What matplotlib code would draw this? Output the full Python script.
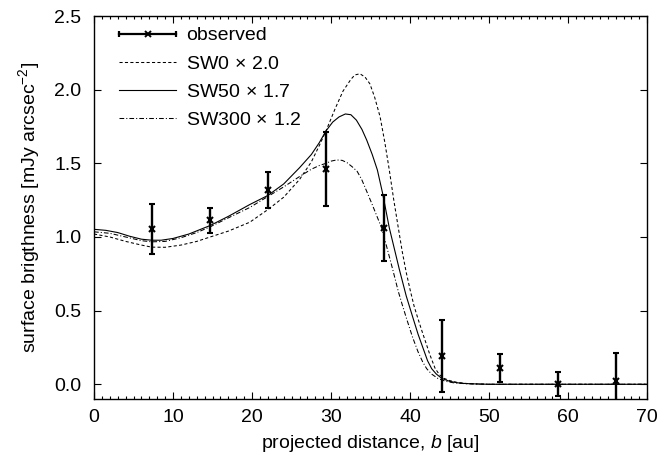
import matplotlib
matplotlib.use("Agg")
import matplotlib.pyplot as plt
from matplotlib.lines import Line2D
from matplotlib.legend_handler import HandlerBase
from matplotlib.container import ErrorbarContainer
from matplotlib.ticker import MultipleLocator, FormatStrFormatter

plt.rcParams['font.family'] = ['Liberation Sans', 'DejaVu Sans']
plt.rcParams['mathtext.fontset'] = 'custom'
plt.rcParams['mathtext.rm'] = 'Liberation Sans'
plt.rcParams['mathtext.it'] = 'Liberation Sans:italic'
plt.rcParams['font.size'] = 14

# observed data
obs_x = [22/3, 44/3, 22.0, 88/3, 110/3, 44.0, 154/3, 176/3, 66.0]
obs_y = [1.057, 1.113, 1.316, 1.462, 1.060, 0.194, 0.110, 0.003, 0.020]
obs_err = [0.170, 0.083, 0.122, 0.253, 0.225, 0.245, 0.095, 0.082, 0.190]

# SW0 x 2.0 (dashed)
sw0_x = [0, 2, 4, 6, 7.3, 9, 11, 13, 14.7, 17, 19.7, 22, 24, 26, 27.5, 28.5,
         29.35, 30.5, 31.5, 32.5, 33.0, 33.65, 34.3, 34.9, 35.5, 36.2, 36.8,
         37.36, 37.9, 38.5, 39.0, 39.5, 40.0, 40.5, 41.0, 41.5, 42.0, 42.5,
         43.14, 43.7, 44.3, 45, 46, 47, 48, 50, 55, 70]
sw0_y = [1.02, 1.00, 0.97, 0.945, 0.931, 0.930, 0.945, 0.97, 1.00, 1.04, 1.10,
         1.186, 1.27, 1.39, 1.51, 1.62, 1.72, 1.87, 1.99, 2.07, 2.10, 2.108,
         2.085, 2.04, 1.95, 1.815, 1.64, 1.455, 1.26, 1.062, 0.90, 0.76, 0.64,
         0.53, 0.443, 0.36, 0.28, 0.20, 0.11, 0.065, 0.04, 0.025, 0.012, 0.006,
         0.003, 0.0, 0.0, 0.0]

# SW50 x 1.7 (solid)
sw50_x = [0, 1.5, 3, 4.5, 6, 7.3, 8.5, 10, 12, 14.7, 17, 19.7, 22, 24, 26,
          27.5, 28.5, 29.35, 30.2, 31, 31.8, 32.5, 33.2, 33.9, 34.5, 35.2,
          35.85, 36.5, 37.36, 38.0, 38.63, 39.5, 40.4, 41.0, 41.6, 42.2, 42.72,
          43.3, 44, 45, 46, 47, 48.5, 50, 70]
sw50_y = [1.052, 1.045, 1.03, 1.005, 0.985, 0.978, 0.978, 0.99, 1.02, 1.078,
          1.14, 1.22, 1.282, 1.36, 1.47, 1.56, 1.64, 1.72, 1.78, 1.815, 1.835,
          1.83, 1.793, 1.73, 1.658, 1.56, 1.455, 1.30, 1.062, 0.92, 0.78, 0.60,
          0.443, 0.34, 0.25, 0.16, 0.106, 0.07, 0.04, 0.02, 0.01, 0.005, 0.002,
          0.0, 0.0]

# SW300 x 1.2 (dash-dot)
sw300_x = [0, 2, 4, 6, 7.3, 9, 11, 13, 14.7, 17, 19.7, 22, 24, 26, 27.5, 28.5,
           29.35, 30.0, 30.7, 31.4, 32.0, 32.7, 33.3, 33.87, 34.5, 35.2, 35.8,
           36.4, 37.1, 37.79, 38.5, 39.0, 39.56, 40.3, 41.0, 41.6, 42.09, 42.7,
           43.5, 44.5, 45.5, 47, 49, 50, 70]
sw300_y = [1.035, 1.025, 1.00, 0.975, 0.967, 0.97, 0.995, 1.03, 1.069, 1.13,
           1.20, 1.275, 1.34, 1.41, 1.46, 1.485, 1.50, 1.515, 1.523, 1.52,
           1.505, 1.475, 1.445, 1.39, 1.31, 1.22, 1.14, 1.06, 0.92, 0.78, 0.63,
           0.54, 0.443, 0.32, 0.22, 0.15, 0.106, 0.07, 0.04, 0.02, 0.01, 0.004,
           0.001, 0.0, 0.0]

labels = ['observed', r'SW0$\,\times\,$2.0', r'SW50$\,\times\,$1.7',
          r'SW300$\,\times\,$1.2']


class HandlerHErr(HandlerBase):
    def create_artists(self, legend, orig_handle, xdescent, ydescent, width,
                       height, fontsize, trans):
        y = height / 2 - ydescent
        x0 = -xdescent
        x1 = -xdescent + width
        line = Line2D([x0, x1], [y, y], color='k', lw=1.6)
        caps = Line2D([x0, x1], [y, y], ls='none', marker='|', ms=5,
                      mew=1.6, color='k')
        mk = Line2D([(x0 + x1) / 2], [y], ls='none', marker='x', ms=4,
                    mew=1.4, color='k')
        for a in (line, caps, mk):
            a.set_transform(trans)
        return [line, caps, mk]


fig = plt.figure(figsize=(6.64, 4.63), dpi=100)
ax = fig.add_axes([0.1416, 0.1382, 0.9748 - 0.1416, 0.9654 - 0.1382])

eb = ax.errorbar(obs_x, obs_y, yerr=obs_err, fmt='x', color='k', ms=5,
                 mew=1.5, elinewidth=1.7, capsize=2.2, capthick=1.5,
                 zorder=5)
l0, = ax.plot(sw0_x, sw0_y, color='k', lw=0.75, dashes=(3.0, 2.2))
l50, = ax.plot(sw50_x, sw50_y, color='k', lw=0.8, ls='-')
l300, = ax.plot(sw300_x, sw300_y, color='k', lw=0.75,
                dashes=(4.5, 2.0, 1.0, 2.0))

ax.set_xlim(0, 70)
ax.set_ylim(-0.1, 2.5)
ax.xaxis.set_major_locator(MultipleLocator(10))
ax.xaxis.set_minor_locator(MultipleLocator(1))
ax.yaxis.set_major_locator(MultipleLocator(0.5))
ax.yaxis.set_major_formatter(FormatStrFormatter('%.1f'))
ax.tick_params(which='both', direction='in', top=True, right=True,
               width=0.8)
ax.tick_params(which='major', length=5)
ax.tick_params(axis='x', which='major', pad=7)
ax.tick_params(axis='y', which='major', pad=9)
ax.tick_params(which='minor', length=2.5)
for s in ax.spines.values():
    s.set_linewidth(1.0)

ax.set_xlabel(r'projected distance, $b$ [au]', labelpad=5)
ax.set_ylabel(r'surface brigthness [mJy arcsec$^{-2}$]', labelpad=9)

ax.legend([eb, l0, l50, l300], labels, loc='upper left', frameon=False,
          handlelength=2.94, handletextpad=0.5, labelspacing=0.55,
          borderpad=0, borderaxespad=0, bbox_to_anchor=(0.045, 0.972),
          handler_map={ErrorbarContainer: HandlerHErr()})

fig.savefig('out.png', dpi=100)
